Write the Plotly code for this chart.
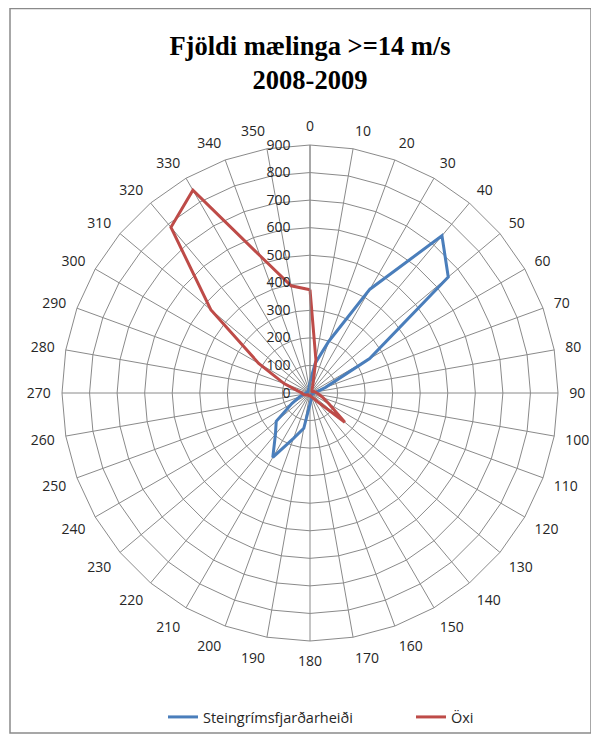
import plotly.graph_objects as go

directions = [str(d) for d in range(0, 360, 10)]

steingrims = [40, 110, 200, 435, 745, 655, 250, 60, 25, 15, 10, 8,
              8, 8, 10, 10, 15, 25, 40, 130, 175, 270, 195, 160,
              75, 40, 20, 15, 10, 10, 10, 10, 10, 10, 15, 20]

oxi = [375, 123, 30, 15, 10, 10, 10, 15, 20, 25, 35, 50,
       80, 165, 40, 20, 15, 10, 10, 10, 10, 10, 10, 10,
       15, 20, 25, 30, 45, 100, 215, 470, 785, 850, 530, 395]

radial_ticks = list(range(0, 1000, 100))

W, H = 599, 738
series = [
    ("Steingrímsfjarðarheiði", steingrims, "#4a7ebb", "legend", 155),
    ("Öxi", oxi, "#be4b48", "legend2", 403),
]

fig = go.Figure()
for name, vals, col, leg, _ in series:
    fig.add_trace(go.Scatterpolar(
        r=vals + vals[:1],
        theta=directions + directions[:1],
        mode="lines",
        name=name,
        legend=leg,
        showlegend=True,
        line=dict(color=col, width=3),
    ))

grid = "#8a8a8a"
legend_font = dict(family="Open Sans", size=14.5, color="#262626")
legends = {}
for name, vals, col, leg, xpix in series:
    legends[leg] = dict(
        orientation="h",
        x=xpix / W, xanchor="left",
        y=1 - 709 / H, yanchor="middle",
        font=legend_font,
        bgcolor="rgba(0,0,0,0)",
        visible=True,
    )

fig.update_layout(
    width=W, height=H,
    margin=dict(l=0, r=0, t=0, b=0),
    paper_bgcolor="white",
    plot_bgcolor="white",
    showlegend=True,
    font=dict(family="Open Sans", size=13, color="#262626"),
    title=dict(
        text="<b>Fjöldi mælinga >=14 m/s<br>2008-2009</b>",
        x=302 / W, xanchor="center",
        y=1 - 47 / H, yanchor="middle",
        font=dict(family="Liberation Serif", size=26.5, color="black"),
    ),
    polar=dict(
        domain=dict(x=[54 / W, 550 / W], y=[1 - 633 / H, 1 - 137 / H]),
        bgcolor="white",
        gridshape="linear",
        angularaxis=dict(
            type="category",
            categoryarray=directions,
            direction="clockwise",
            rotation=90,
            showgrid=True, gridcolor=grid, gridwidth=1,
            showline=True, linecolor=grid, linewidth=1,
            ticks="outside", ticklen=8, tickcolor="rgba(0,0,0,0)",
            tickfont=dict(family="Open Sans", size=14, color="#262626"),
        ),
        radialaxis=dict(
            range=[0, 900],
            tickvals=radial_ticks,
            ticktext=[str(v) for v in radial_ticks],
            angle=90,
            side="counterclockwise",
            tickangle=90,
            showgrid=True, gridcolor=grid, gridwidth=1,
            showline=True, linecolor=grid, linewidth=1,
            ticks="outside", ticklen=14, tickcolor="rgba(0,0,0,0)",
            tickfont=dict(family="Open Sans", size=14, color="#262626"),
        ),
    ),
    shapes=[dict(
        type="rect", xref="paper", yref="paper",
        x0=2 / W, x1=583 / W, y0=1 - 725 / H, y1=1 - 0.5 / H,
        line=dict(color="#8a8a8a", width=1.5),
        fillcolor="rgba(0,0,0,0)", layer="below",
    )],
    **legends,
)

fig.write_html("out.html")
